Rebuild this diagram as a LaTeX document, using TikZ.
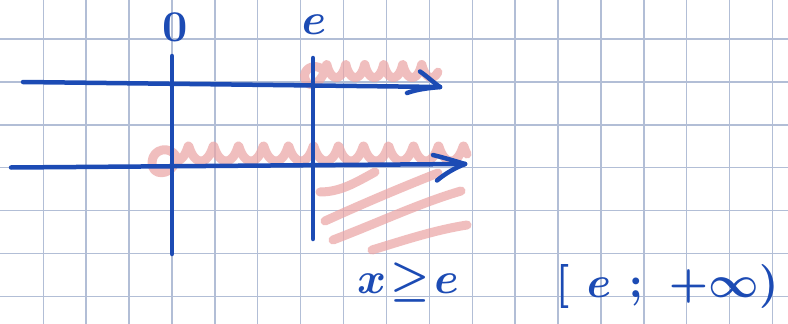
\documentclass[tikz,border=0pt]{standalone}
\usepackage{graphicx}
\usepackage{amsmath,amssymb}
\usepackage{xcolor}
\definecolor{tintaAzul}{HTML}{1C4BB4}
\definecolor{rosaClaro}{HTML}{EBA3A3}
\definecolor{cuadricula}{HTML}{B2BED6}
\newcommand{\grande}[1]{\scalebox{4.4}{\boldmath #1}}

\begin{document}
\begin{tikzpicture}[x=1pt, y=-1pt,
            eje/.style={line width=4.5pt, line cap=round, line join=round, tintaAzul},
            rayado/.style={line width=9pt, line cap=round, line join=round, rosaClaro, opacity=0.7},
            linea/.style={line width=1.4pt, cuadricula},
            etiqueta/.style={text=tintaAzul, inner sep=0pt}
        ]
\useasboundingbox (0,0) rectangle (788,324);
\fill[white] (0,0) rectangle (788,324);
% cuadricula
\foreach \k in {1,...,18}
  \draw[linea] ({0.3+42.9*\k},0) -- ({0.3+42.9*\k},324);
\foreach \k in {1,...,7}
  \draw[linea] (0,{-3.9+42.9*\k}) -- (788,{-3.9+42.9*\k});

\coordinate (ejeA-ini) at (23,82);
\coordinate (ejeA-fin) at (440,87);
\coordinate (ejeB-ini) at (11,167.5);
\coordinate (ejeB-fin) at (465,164);
\coordinate (cero-sup) at (172,56);
\coordinate (cero-inf) at (172,254);
\coordinate (e-sup) at (313,58);
\coordinate (e-inf) at (313,239);

% sombreado
\draw[rayado] (322,69) .. controls (314,63) and (302,69) .. (305,79)
  .. controls (308,89) and (320,85) .. (324.5,71)
  -- plot[domain=-90:2060, samples=220] ({322+(\x+90)/18.95-2.5*sin(\x)}, {71-6.5*cos(\x)});
\draw[rayado] (176,156) .. controls (170,146) and (153,148) .. (152,162)
  .. controls (151,176) and (170,177) .. (176,161)
  -- plot[domain=180:4414, samples=360] ({176+(\x-180)/14.4-3*sin(\x)}, {153.5-7.5*cos(\x)});
\draw[rayado] (320,192) .. controls (340,192) and (355,183) .. (375,172);
\draw[rayado] (325,221) .. controls (360,205) and (400,188) .. (438,173);
\draw[rayado] (333,240) .. controls (380,222) and (420,203) .. (461,191);
\draw[rayado] (372,250) .. controls (405,240) and (435,230) .. (467,225);

% ejes
\draw[eje] (ejeA-ini) -- (ejeA-fin);
\draw[eje] (420,71.5) .. controls (428,77) and (434,83) .. (ejeA-fin);
\draw[eje] (407,93) .. controls (418,89) and (430,88) .. (ejeA-fin);
\draw[eje] (ejeB-ini) -- (ejeB-fin);
\draw[eje] (433,155) .. controls (445,158) and (455,161) .. (ejeB-fin);
\draw[eje] (437,180.5) .. controls (446,173) and (455,168) .. (ejeB-fin);
\draw[eje] (cero-sup) -- (cero-inf);
\draw[eje] (e-sup) -- (e-inf);

\node[etiqueta] (cero) at (175,27) {\grande{\bfseries 0}};
\node[etiqueta] (eArriba) at (314,25) {\grande{$e$}};
\node[etiqueta] (desigualdad) at (408,282) {\grande{$x\hspace{1pt}{\geq}\hspace{1pt}e$}};
\node[etiqueta] (intervalo) at (667,286) {\grande{$[\hspace{4pt}e\hspace{4pt};\hspace{4pt}{+}\infty)$}};
\end{tikzpicture}
\end{document}
